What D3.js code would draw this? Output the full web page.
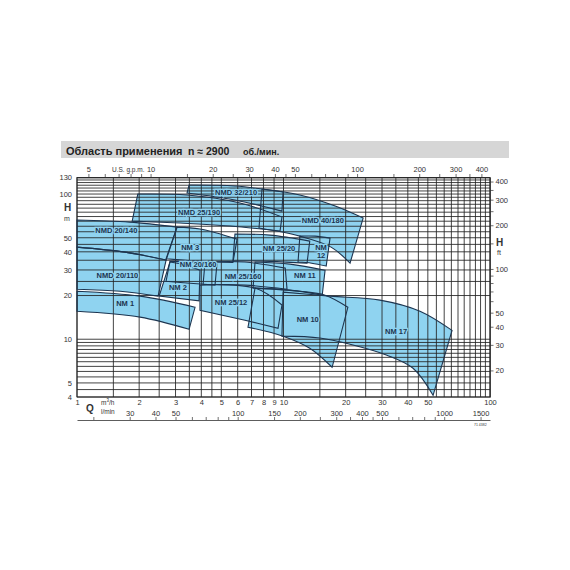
<!DOCTYPE html>
<html>
<head>
<meta charset="utf-8">
<script src="https://cdn.jsdelivr.net/npm/d3@7"></script>
<style>
    body { margin: 0; background: #fff; }
    #chart { width: 570px; height: 570px; }
    text { font-family: "Liberation Sans", Arial, sans-serif; }
</style>
</head>
<body>
<div id="chart"></div>
<script>
// axis values (m3/h, m, and the converted scales)
const flowLabels = [1, 2, 3, 4, 5, 6, 7, 8, 9, 10, 20, 30, 40, 50, 100];
const flowGrid = [1, 1.5, 2, 2.5, 3, 3.5, 4, 4.5, 5, 6, 7, 8, 9, 10, 15, 20, 25, 30, 35, 40, 45, 50, 55, 60, 65, 70, 75, 80, 85, 90, 95, 100];
const lminLabels = [30, 40, 50, 100, 150, 200, 300, 400, 500, 1000, 1500];
const lminTicks = [20, 30, 40, 50, 60, 70, 80, 90, 100, 150, 200, 250, 300, 350, 400, 450, 500, 600, 700, 800, 900, 1000, 1500];
const gpmLabels = [5, 10, 20, 30, 40, 50, 100, 200, 300, 400];
const gpmTicks = [5, 6, 7, 8, 9, 10, 15, 20, 25, 30, 35, 40, 45, 50, 60, 70, 80, 90, 100, 150, 200, 250, 300, 350, 400];
const headLabels = [4, 5, 10, 20, 30, 40, 50, 100, 130];
const headGrid = [4, 4.5, 5, 5.5, 6, 6.5, 7, 7.5, 8, 8.5, 9, 9.5, 10, 20, 25, 30, 35, 40, 45, 50, 55, 60, 65, 70, 75, 80, 85, 90, 95, 100, 105, 110, 115, 120, 125, 130];
const ftLabels = [20, 30, 40, 50, 100, 200, 300, 400];
const ftTicks = [20, 30, 40, 50, 60, 70, 80, 90, 100, 150, 200, 250, 300, 350, 400];

// pump ranges: top curve and bottom curve, [Q m3/h, H m], left to right
const pumpNames = ["NMD 20/140", "NMD 20/110", "NM 1", "NM 2", "NM 3", "NM 20/160", "NMD 25/190", "NMD 32/210",
    "NMD 40/180", "NM 25/20", "NM 12", "NM 25/160", "NM 11", "NM 25/12", "NM 10", "NM 17"];
const pumpTop = [
    [[1, 66.2], [1.8, 64.1], [3.05, 59.2]],
    [[1, 43.1], [1.71, 39.8], [2.7, 35.1]],
    [[1, 21.4], [2.02, 19.8], [3.73, 16.6]],
    [[2.82, 34.0], [3.33, 32.4], [3.94, 29.9]],
    [[3.05, 59.2], [3.94, 57.4], [5.96, 48.9]],
    [[2.82, 34.5], [3.53, 34.0], [4.76, 32.9]],
    [[1.97, 100], [3.41, 98.4], [6.16, 86.7], [9.83, 69.4]],
    [[3.49, 115.4], [5.82, 113.6], [9.95, 103.2]],
    [[7.87, 108.3], [12.0, 98.4], [17.8, 82.6], [24.3, 68.3]],
    [[5.82, 53.0], [8.6, 52.1], [13.4, 47.4]],
    [[12.0, 51.3], [14.2, 51.3], [16.8, 49.7]],
    [[4.17, 34.0], [6.51, 34.0], [10.2, 30.9]],
    [[7.28, 34.0], [10.75, 32.9], [15.9, 29.9]],
    [[3.94, 23.6], [7.28, 22.5], [9.83, 17.2]],
    [[7.28, 22.5], [12.0, 21.4], [15.9, 20.1], [20.5, 16.6]],
    [[9.95, 21.1], [16.8, 19.8], [29.3, 18.6], [45.8, 15.6], [65.5, 11.5]]
];
const pumpBottom = [
    [[1, 43.1], [1.71, 39.8], [2.7, 35.1]],
    [[1, 22.1], [1.62, 21.4], [2.47, 19.8]],
    [[1, 15.6], [2.02, 14.2], [3.49, 11.7]],
    [[2.5, 19.8], [3.9, 18.4]],
    [[2.7, 35.8], [3.94, 34.4], [5.69, 33.8]],
    [[2.7, 25.1], [3.53, 24.3], [4.66, 23.6]],
    [[1.85, 65.1], [3.15, 63.1], [5.51, 60.2], [9.62, 55.6]],
    [[3.41, 101.6], [5.82, 90.9], [9.83, 76.3]],
    [[7.61, 58.3], [12.0, 51.3], [17.0, 43.1], [21.0, 33.4]],
    [[5.69, 34.6], [8.6, 34.4], [13.0, 33.4]],
    [[11.76, 34.0], [13.7, 33.4], [16.1, 31.9]],
    [[4.08, 23.9], [6.51, 23.6], [10.4, 22.1]],
    [[7.12, 22.5], [10.75, 21.8], [15.4, 20.1]],
    [[3.94, 15.85], [6.51, 13.5], [9.41, 11.9]],
    [[6.73, 12.1], [9.95, 10.5], [13.4, 8.67], [17.2, 6.41]],
    [[9.83, 10.5], [15.0, 10.2], [21.0, 9.24], [31.7, 7.76], [42.4, 6.31], [53.0, 4.11]]
];
// label anchor for each pump [Q, H]
const labelAt = [[1.55, 53.8], [1.57, 26.3], [1.71, 16.9], [3.08, 21.8], [3.53, 41.2], [3.86, 31.4], [3.9, 71.9], [5.89, 98.4],
    [15.5, 63.1], [9.51, 40.4], [15.2, 41.2], [6.37, 25.9], [12.7, 26.3], [5.57, 17.2], [13.1, 13.1], [35.1, 10.9]];

const M3H_TO_GPM = 4.4029, M3H_TO_LMIN = 16.6667, M_TO_FT = 1 / 0.3048;

class PumpRangeChart {
    constructor(parentContainer) {
        this.parentContainer = parentContainer;
        this.initVis();
    }

    initVis() {
        let vis = this;
        vis.margin = {top: 177.5, right: 80, bottom: 173, left: 77};
        vis.width = 570 - vis.margin.left - vis.margin.right;
        vis.height = 570 - vis.margin.top - vis.margin.bottom;

        vis.svg = d3.select("#" + vis.parentContainer).append("svg")
            .attr("width", 570).attr("height", 570);

        vis.x = d3.scaleLog().domain([1, 100]).range([vis.margin.left, vis.margin.left + vis.width]);
        vis.y = d3.scaleLog().domain([4, 130]).range([vis.margin.top + vis.height, vis.margin.top]);
        vis.xGpm = d3.scaleLog().domain(vis.x.domain().map(d => d * M3H_TO_GPM)).range(vis.x.range());
        vis.xLmin = d3.scaleLog().domain(vis.x.domain().map(d => d * M3H_TO_LMIN)).range(vis.x.range());
        vis.yFt = d3.scaleLog().domain(vis.y.domain().map(d => d * M_TO_FT)).range(vis.y.range());

        vis.fill = "#8fd3f0";
        vis.ink = "#1d3550";
        vis.updateVis();
    }

    regionPath(top, bottom) {
        let vis = this;
        const line = d3.line()
            .x(d => vis.x(d[0]))
            .y(d => vis.y(d[1]))
            .curve(d3.curveCatmullRom.alpha(0.5));
        return line(top) + line(bottom.slice().reverse()).replace(/^M/, "L") + "Z";
    }

    updateVis() {
        let vis = this;
        const x0 = vis.margin.left, x1 = vis.margin.left + vis.width;
        const y0 = vis.margin.top, y1 = vis.margin.top + vis.height;

        // title bar
        vis.svg.append("rect").attr("x", 61).attr("y", 141).attr("width", 448).attr("height", 17).attr("fill", "#d6d6d6");
        const title = vis.svg.append("g").attr("fill", "#222").attr("font-weight", "bold");
        title.append("text").attr("x", 66).attr("y", 155).attr("font-size", 11).text("Область применения");
        title.append("text").attr("x", 188).attr("y", 155).attr("font-size", 10.5).text("n ≈ 2900");
        title.append("text").attr("x", 243).attr("y", 155).attr("font-size", 9).text("об./мин.");

        // ranges
        vis.svg.selectAll(".range").data(pumpNames).enter().append("path")
            .attr("class", "range")
            .attr("d", (d, i) => vis.regionPath(pumpTop[i], pumpBottom[i]))
            .attr("fill", vis.fill)
            .attr("stroke", "none");

        // grid
        const grid = vis.svg.append("g").attr("stroke", "#222").attr("stroke-width", 0.85);
        grid.selectAll(".vgrid").data(flowGrid).enter().append("line")
            .attr("x1", d => vis.x(d)).attr("x2", d => vis.x(d))
            .attr("y1", y0).attr("y2", y1);
        grid.selectAll(".hgrid").data(headGrid).enter().append("line")
            .attr("x1", x0).attr("x2", x1)
            .attr("y1", d => vis.y(d)).attr("y2", d => vis.y(d));
        vis.svg.append("rect").attr("x", x0).attr("y", y0).attr("width", vis.width).attr("height", vis.height)
            .attr("fill", "none").attr("stroke", "#222").attr("stroke-width", 0.9);

        // outlines
        vis.svg.selectAll(".outline").data(pumpNames).enter().append("path")
            .attr("class", "outline")
            .attr("d", (d, i) => vis.regionPath(pumpTop[i], pumpBottom[i]))
            .attr("fill", "none")
            .attr("stroke", vis.ink)
            .attr("stroke-width", 1.1)
            .attr("stroke-linejoin", "miter");

        // range labels
        vis.svg.selectAll(".range-label").data(pumpNames).enter().append("text")
            .attr("class", "range-label")
            .attr("x", (d, i) => vis.x(labelAt[i][0]))
            .attr("y", (d, i) => vis.y(labelAt[i][1]))
            .attr("text-anchor", "middle")
            .attr("font-size", 7.5).attr("font-weight", "bold")
            .attr("fill", vis.ink)
            .attr("stroke", vis.fill).attr("stroke-width", 2.5).attr("paint-order", "stroke")
            .each(function (d) {
                const parts = d === "NM 12" ? ["NM", "12"] : [d];
                const t = d3.select(this);
                parts.forEach((p, k) => t.append("tspan")
                    .attr("x", t.attr("x")).attr("dy", k === 0 ? 0 : 8).text(p));
            });

        // axes
        const styleAxis = g => {
            g.selectAll("text").attr("font-size", 7.5).attr("fill", "#333")
                .style("font-family", "'Liberation Sans', Arial, sans-serif");
            g.selectAll("line").attr("stroke", "#333").attr("stroke-width", 0.7);
            g.select(".domain").attr("stroke", "#333").attr("stroke-width", 0.8);
        };

        vis.svg.append("g").attr("transform", `translate(0,${y1})`)
            .call(d3.axisBottom(vis.x).tickValues(flowLabels).tickSize(0).tickPadding(2.5).tickFormat(d3.format("d")))
            .call(styleAxis).call(g => g.select(".domain").remove());

        vis.svg.append("g").attr("transform", "translate(0,420)")
            .call(d3.axisTop(vis.xLmin).tickValues(lminTicks).tickSize(3).tickSizeOuter(0).tickPadding(1.5)
                .tickFormat(d => lminLabels.includes(d) ? d : ""))
            .call(styleAxis);

        vis.svg.append("g").attr("transform", `translate(0,${y0})`)
            .call(d3.axisTop(vis.xGpm).tickValues(gpmTicks).tickSize(3.5).tickSizeOuter(0).tickPadding(2)
                .tickFormat(d => gpmLabels.includes(d) ? d : ""))
            .call(styleAxis);

        vis.svg.append("g").attr("transform", `translate(${x0},0)`)
            .call(d3.axisLeft(vis.y).tickValues(headLabels).tickSize(0).tickPadding(5).tickFormat(d3.format("d")))
            .call(styleAxis).call(g => g.select(".domain").remove());

        vis.svg.append("g").attr("transform", `translate(${x1},0)`)
            .call(d3.axisRight(vis.yFt).tickValues(ftTicks).tickSize(3.5).tickSizeOuter(0).tickPadding(2)
                .tickFormat(d => ftLabels.includes(d) ? d : ""))
            .call(styleAxis);

        // axis titles
        const txt = (x, y, s, size, bold) => vis.svg.append("text").attr("x", x).attr("y", y)
            .attr("font-size", size).attr("font-weight", bold ? "bold" : "normal").attr("fill", "#333").text(s);
        txt(112, 172, "U.S. g.p.m.", 6.5, false);
        txt(64, 211, "H", 10, true);
        txt(64, 221, "m", 7, false);
        txt(496, 246, "H", 10, true);
        txt(497, 255, "ft", 7, false);
        txt(86, 412, "Q", 10, true);
        const m3 = txt(101, 405, "m", 6.5, false);
        m3.append("tspan").attr("font-size", 4.5).attr("dy", -3).text("3");
        m3.append("tspan").attr("dy", 3).text("/h");
        txt(101, 414, "l/min", 6.5, false);
        txt(474, 426, "71 4382", 3.5, false);
    }
}

new PumpRangeChart("chart");
</script>
</body>
</html>
